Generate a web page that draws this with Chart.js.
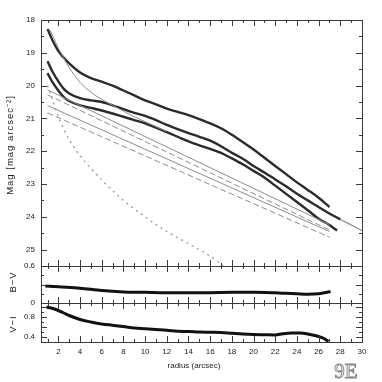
<!DOCTYPE html>
<html>
<head>
<meta charset="utf-8">
<script src="https://cdn.jsdelivr.net/npm/chart.js@4.4.1/dist/chart.umd.min.js"></script>
<style>
html, body { margin: 0; padding: 0; background: #fff; }
#wrap { width: 382px; height: 382px; }
</style>
</head>
<body>
<div id="wrap"><canvas id="profile_plot_canvas" width="382" height="382"></canvas></div>
<script>
// radius grid of the three measured profiles (arcsec)
const rI = [1, 1.5, 2, 2.5, 3, 4, 5, 6, 7, 8, 9, 10, 11, 12, 13, 14, 15, 16, 17, 18, 19, 20, 21, 22, 23, 24, 25, 26, 27];
const magI = [18.27, 18.65, 18.95, 19.15, 19.32, 19.6, 19.77, 19.88, 20.0, 20.15, 20.3, 20.45, 20.57, 20.7, 20.8, 20.9, 21.02, 21.15, 21.3, 21.5, 21.72, 21.95, 22.2, 22.45, 22.7, 22.95, 23.18, 23.42, 23.7];

const rV = [1, 1.5, 2, 2.5, 3, 4, 5, 6, 7, 8, 9, 10, 11, 12, 13, 14, 15, 16, 17, 18, 19, 20, 21, 22, 23, 24, 25, 26, 27, 28, 29, 30];
const magV = [19.26, 19.6, 19.87, 20.1, 20.24, 20.38, 20.45, 20.5, 20.6, 20.72, 20.83, 20.92, 21.05, 21.2, 21.33, 21.45, 21.56, 21.68, 21.85, 22.05, 22.23, 22.45, 22.65, 22.86, 23.07, 23.3, 23.5, 23.7, 23.9, 24.08, 24.25, 24.42];

const rB = [1, 1.5, 2, 2.5, 3, 4, 5, 6, 7, 8, 9, 10, 11, 12, 13, 14, 15, 16, 17, 18, 19, 20, 21, 22, 23, 24, 25, 26, 27, 27.7];
const magB = [19.62, 19.92, 20.15, 20.35, 20.47, 20.6, 20.68, 20.76, 20.85, 20.95, 21.05, 21.15, 21.28, 21.42, 21.56, 21.7, 21.82, 21.93, 22.05, 22.22, 22.4, 22.6, 22.8, 23.05, 23.3, 23.55, 23.8, 24.06, 24.25, 24.42];

// model components
const rBulge = [1, 1.5, 2, 2.5, 3, 4, 5, 6, 7, 8, 10, 12, 14, 16, 17.2];
const magBulge = [20.0, 20.47, 20.95, 21.33, 21.64, 22.14, 22.52, 22.88, 23.2, 23.5, 24.0, 24.45, 24.82, 25.2, 25.5];

const rInner = [1.2, 1.5, 2, 3, 4, 5, 6, 7, 8, 9, 10, 11, 12];
const magInner = [18.3, 18.5, 18.85, 19.45, 19.9, 20.2, 20.42, 20.6, 20.78, 20.95, 21.1, 21.25, 21.4];

const rDisk = [1, 27];
const diskA = [20.13, 24.24];
const diskAdash = [20.28, 24.4];
const diskB = [20.61, 24.45];
const diskBdash = [20.83, 24.62];

// colour profiles
const rBV = [0.8, 2, 4, 6, 8, 10, 12, 14, 16, 18, 20, 22, 23, 24, 25, 26, 26.5, 27.1];
const colBV = [0.385, 0.375, 0.36, 0.335, 0.32, 0.315, 0.31, 0.31, 0.312, 0.315, 0.316, 0.31, 0.305, 0.3, 0.295, 0.3, 0.31, 0.325];

const rVI = [0.9, 1.5, 2, 2.5, 3, 4, 5, 6, 7, 8, 9, 10, 11, 12, 13, 14, 15, 16, 17, 18, 19, 20, 21, 22, 22.7, 23.5, 24.3, 25.2, 26, 26.5, 26.9];
const colVI = [1.0, 0.97, 0.93, 0.88, 0.83, 0.75, 0.7, 0.66, 0.635, 0.61, 0.58, 0.565, 0.55, 0.535, 0.515, 0.51, 0.5, 0.495, 0.49, 0.475, 0.46, 0.45, 0.445, 0.44, 0.465, 0.48, 0.48, 0.45, 0.41, 0.37, 0.31];

// tick labels
const xTicks = [2, 4, 6, 8, 10, 12, 14, 16, 18, 20, 22, 24, 26, 28, 30];
const magTicks = [18, 19, 20, 21, 22, 23, 24, 25];
const bvTicks = [0.2, 0.4, 0.6];
const viTicks = [0.4, 0.8];

function pairs(xs, ys) {
    return xs.map((x, i) => ({ x: x, y: ys[i] }));
}

const tickFont = { family: 'Liberation Sans', size: 8 };

function rotatedText(ctx, text, x, y, spacing) {
    ctx.save();
    ctx.translate(x, y);
    ctx.rotate(-Math.PI / 2);
    ctx.letterSpacing = spacing;
    ctx.fillText(text, 0, 0);
    ctx.restore();
}

// frame + inward ticks + free texts
const framePlugin = {
    id: 'framePlugin',
    afterDraw(chart) {
        const ctx = chart.ctx;
        const ca = chart.chartArea;
        const xs = chart.scales.x;
        const panels = [
            { s: chart.scales.y, step: 0.5, every: 2 },
            { s: chart.scales.bv, step: 0.1, every: 2 },
            { s: chart.scales.vi, step: 0.1, every: 2 },
        ];
        ctx.save();
        ctx.strokeStyle = '#3a3a3a';
        ctx.lineWidth = 1;
        panels.forEach(p => {
            const top = Math.round(p.s.top), bottom = Math.round(p.s.bottom);
            ctx.strokeRect(Math.round(ca.left) + 0.5, top + 0.5, Math.round(ca.width), bottom - top);
            ctx.beginPath();
            for (let v = 1; v <= 30; v++) {
                const px = Math.round(xs.getPixelForValue(v)) + 0.5;
                const len = v % 2 === 0 ? 6 : 3;
                ctx.moveTo(px, top); ctx.lineTo(px, top + len);
                ctx.moveTo(px, bottom); ctx.lineTo(px, bottom - len);
            }
            const lo = Math.min(p.s.min, p.s.max), hi = Math.max(p.s.min, p.s.max);
            const k0 = Math.ceil(lo / p.step - 1e-6), k1 = Math.floor(hi / p.step + 1e-6);
            for (let k = k0; k <= k1; k++) {
                const py = Math.round(p.s.getPixelForValue(k * p.step)) + 0.5;
                const len = k % p.every === 0 ? 6 : 3;
                ctx.moveTo(ca.left, py); ctx.lineTo(ca.left + len, py);
                ctx.moveTo(ca.right, py); ctx.lineTo(ca.right - len, py);
            }
            ctx.stroke();
        });

        ctx.fillStyle = '#222';
        ctx.textAlign = 'center';
        ctx.textBaseline = 'middle';
        ctx.font = '8px "Liberation Sans"';
        ctx.fillText('radius (arcsec)', 194, 366);

        ctx.font = '9.5px "Liberation Sans"';
        rotatedText(ctx, 'Mag [mag arcsec\u207B\u00B2]', 10, 145, '1px');
        rotatedText(ctx, 'B\u2212V', 13, 282, '1px');
        rotatedText(ctx, 'V\u2212I', 13, 324, '1px');

        ctx.font = '21px "Liberation Serif"';
        ctx.strokeStyle = '#808080';
        ctx.lineWidth = 0.9;
        ctx.strokeText('9E', 346, 372);
        ctx.restore();
    }
};

const thick = { borderColor: '#2b2b2b', borderWidth: 2.4, pointRadius: 0, cubicInterpolationMode: 'monotone', yAxisID: 'y' };
const thin = { borderColor: '#8c8c8c', borderWidth: 1, pointRadius: 0, cubicInterpolationMode: 'monotone', yAxisID: 'y' };

const profileCanvas = document.getElementById('profile_plot_canvas');
const profileChart = new Chart(profileCanvas, {
    type: 'line',
    data: {
        datasets: [
            Object.assign({}, thin, { data: pairs(rBulge, magBulge), borderDash: [2, 4], borderColor: '#9a9a9a', borderWidth: 1.3 }),
            Object.assign({}, thin, { data: pairs(rDisk, diskBdash), borderDash: [6, 3] }),
            Object.assign({}, thin, { data: pairs(rDisk, diskB) }),
            Object.assign({}, thin, { data: pairs(rDisk, diskAdash), borderDash: [6, 3] }),
            Object.assign({}, thin, { data: pairs(rDisk, diskA) }),
            Object.assign({}, thin, { data: pairs(rInner, magInner) }),
            Object.assign({}, thick, { data: pairs(rB, magB) }),
            Object.assign({}, thick, {
                data: pairs(rV, magV),
                segment: {
                    borderColor: c => c.p0.parsed.x >= 28 ? '#8c8c8c' : undefined,
                    borderWidth: c => c.p0.parsed.x >= 28 ? 1.2 : undefined,
                }
            }),
            Object.assign({}, thick, { data: pairs(rI, magI) }),
            { data: pairs(rBV, colBV), borderColor: '#111', borderWidth: 3, pointRadius: 0, cubicInterpolationMode: 'monotone', yAxisID: 'bv' },
            { data: pairs(rVI, colVI), borderColor: '#111', borderWidth: 3, pointRadius: 0, cubicInterpolationMode: 'monotone', yAxisID: 'vi' },
        ]
    },
    options: {
        responsive: false,
        animation: false,
        devicePixelRatio: 1,
        layout: { padding: { left: 0, right: 20, top: 20, bottom: 0 } },
        scales: {
            x: {
                type: 'linear',
                min: 0.4,
                max: 30,
                afterBuildTicks: s => { s.ticks = xTicks.map(v => ({ value: v })); },
                afterFit: s => { s.height = 40; },
                ticks: { font: tickFont, color: '#222', padding: 5, maxRotation: 0, autoSkip: false },
                grid: { display: false, drawTicks: false },
                border: { display: false },
            },
            y: {
                type: 'linear',
                position: 'left',
                stack: 'panels',
                stackWeight: 246,
                weight: 3,
                reverse: true,
                min: 18,
                max: 25.5,
                afterBuildTicks: s => { s.ticks = magTicks.map(v => ({ value: v })); },
                afterFit: s => { s.width = 41; },
                ticks: { font: tickFont, color: '#222', padding: 6 },
                grid: { display: false, drawTicks: false },
                border: { display: false },
            },
            bv: {
                type: 'linear',
                position: 'left',
                stack: 'panels',
                stackWeight: 37,
                weight: 2,
                min: 0.2,
                max: 0.6,
                afterBuildTicks: s => { s.ticks = bvTicks.map(v => ({ value: v })); },
                afterFit: s => { s.width = 41; },
                ticks: {
                    font: tickFont, color: '#222', padding: 6,
                    callback: function(value) {
                        return value < 0.3 ? '0' : value.toFixed(1);
                    }
                },
                grid: { display: false, drawTicks: false },
                border: { display: false },
            },
            vi: {
                type: 'linear',
                position: 'left',
                stack: 'panels',
                stackWeight: 39,
                weight: 1,
                min: 0.3,
                max: 1.08,
                afterBuildTicks: s => { s.ticks = viTicks.map(v => ({ value: v })); },
                afterFit: s => { s.width = 41; },
                ticks: {
                    font: tickFont, color: '#222', padding: 6,
                    callback: function(value) {
                        return value.toFixed(1);
                    }
                },
                grid: { display: false, drawTicks: false },
                border: { display: false },
            },
        },
        plugins: {
            legend: { display: false },
            tooltip: { enabled: false },
        }
    },
    plugins: [framePlugin]
});
</script>
</body>
</html>
